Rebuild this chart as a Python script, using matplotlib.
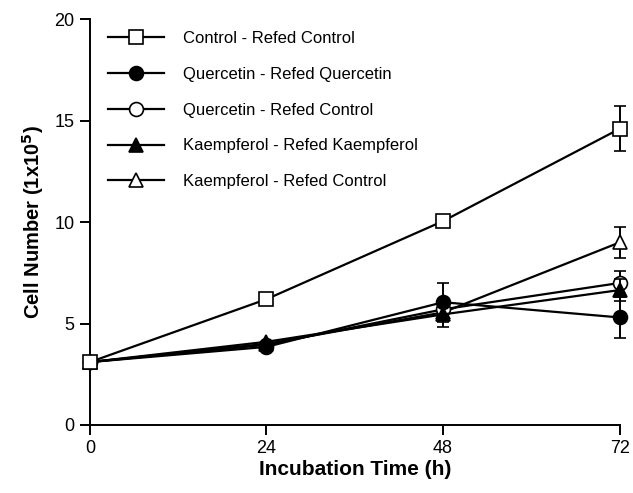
import matplotlib
matplotlib.use("Agg")
import matplotlib.pyplot as plt
from matplotlib.lines import Line2D

plt.rcParams["font.family"] = ["Liberation Sans", "DejaVu Sans"]

hours = [0, 24, 48, 72]

control_refed_control = [3.1, 6.2, 10.05, 14.6]
control_err = [0, 0, 0, 1.1]

quercetin_refed_quercetin = [3.1, 3.85, 6.05, 5.3]
quercetin_q_err = [0, 0, 0.95, 1.0]

quercetin_refed_control = [3.1, 3.95, 5.7, 7.0]
quercetin_c_err = [0, 0, 0, 0.6]

kaempferol_refed_kaempferol = [3.1, 4.1, 5.45, 6.65]
kaempferol_k_err = [0, 0, 0.6, 0.55]

kaempferol_refed_control = [3.1, 4.0, 5.55, 9.0]
kaempferol_c_err = [0, 0, 0, 0.75]

# label, values, error, marker, face colour, draw order
series = [
    ("Control - Refed Control", control_refed_control, control_err, "s", "white", 8),
    ("Quercetin - Refed Quercetin", quercetin_refed_quercetin, quercetin_q_err, "o", "black", 7),
    ("Quercetin - Refed Control", quercetin_refed_control, quercetin_c_err, "o", "white", 5),
    ("Kaempferol - Refed Kaempferol", kaempferol_refed_kaempferol, kaempferol_k_err, "^", "black", 6),
    ("Kaempferol - Refed Control", kaempferol_refed_control, kaempferol_c_err, "^", "white", 4),
]

fig = plt.figure(figsize=(6.33, 4.93), dpi=100)
ax = fig.add_axes([0.142, 0.138, 0.837, 0.823])

style = dict(color="black", markeredgecolor="black", markersize=10,
             markeredgewidth=1.2, linewidth=1.6)
handles = []
for label, vals, err, marker, face, z in series:
    ax.errorbar(hours, vals, yerr=err, marker=marker, markerfacecolor=face,
                elinewidth=1.4, capsize=4, capthick=1.4, zorder=z,
                clip_on=False, **style)
    handles.append(Line2D([], [], marker=marker, markerfacecolor=face,
                          label=label, **style))

ax.set_xlim(0, 72)
ax.set_ylim(0, 20)
ax.set_xticks(hours)
ax.set_yticks([0, 5, 10, 15, 20])
for s in ["top", "right"]:
    ax.spines[s].set_visible(False)
for s in ["left", "bottom"]:
    ax.spines[s].set_linewidth(1.4)
ax.tick_params(direction="out", length=7, width=1.4, labelsize=13, pad=4)
ax.set_xlabel("Incubation Time (h)", fontsize=15, fontweight="bold", labelpad=2)
ax.set_ylabel("Cell Number (1x10$^{\\mathbf{5}}$)", fontsize=14.5,
              fontweight="bold", labelpad=6)

ax.legend(handles=handles, loc="upper left", bbox_to_anchor=(0.005, 1.008),
          frameon=False, fontsize=12, handlelength=3.4, handletextpad=1.1,
          labelspacing=1.25)

fig.savefig("out.png", dpi=100)
